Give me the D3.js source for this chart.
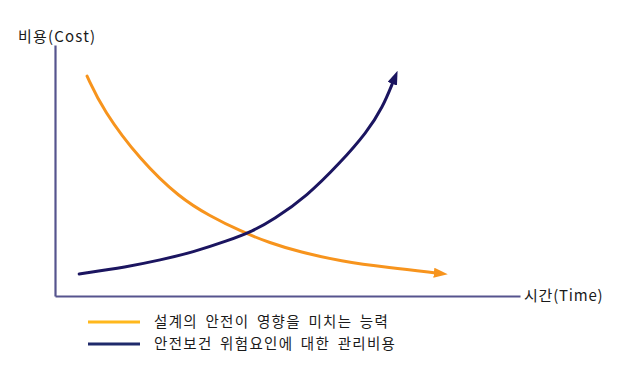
<!DOCTYPE html>
<html>
<head>
<meta charset="utf-8">
<script src="https://cdn.jsdelivr.net/npm/d3@7"></script>
<style>
  body { margin: 0; background: #fff; }
  text { font-family: "Noto Sans CJK KR", "Noto Sans", sans-serif; fill: #1a1a1a; }
</style>
</head>
<body>
<div id="chart"></div>
<script>
// curve points, in 0-100 units along each axis
const designX = [6.9, 10.3, 18.3, 26.9, 33.3, 39.8, 46.2, 52.7, 61.3, 72.0, 81.9];
const designY = [87.6, 74.1, 54.2, 39.0, 31.9, 25.9, 21.1, 17.5, 13.9, 11.2, 9.2];
const riskX = [5.2, 15.5, 22.6, 29.7, 37.0, 42.6, 46.9, 54.2, 61.3, 67.1, 70.5, 72.7];
const riskY = [8.8, 11.6, 14.3, 17.5, 21.9, 25.9, 30.3, 39.8, 53.0, 65.3, 75.3, 85.3];
const seriesNames = ['설계의 안전이 영향을 미치는 능력', '안전보건 위험요인에 대한 관리비용'];
const curveColors = ['#f7941d', '#1b1560'];
const legendColors = ['#ffb81c', '#1f2a6b'];
const yLabel = '비용(Cost)';
const xLabel = '시간(Time)';

const width = 629;
const height = 374;
const plotLeft = 55, plotRight = 520, plotTop = 45, plotBottom = 296;

const svg = d3.select('#chart').append('svg')
  .attr('width', width)
  .attr('height', height);

const xScale = d3.scaleLinear().domain([0, 100]).range([plotLeft, plotRight]);
const yScale = d3.scaleLinear().domain([0, 100]).range([plotBottom, plotTop]);

// arrow heads
const defs = svg.append('defs');
curveColors.forEach(function(c, i) {
  defs.append('marker')
    .attr('id', 'arrow' + i)
    .attr('viewBox', '0 0 14 10')
    .attr('refX', 2)
    .attr('refY', 5)
    .attr('markerWidth', 14)
    .attr('markerHeight', 10)
    .attr('markerUnits', 'userSpaceOnUse')
    .attr('orient', 'auto')
    .append('path')
    .attr('d', 'M0,0 L14,5 L0,10 Z')
    .attr('fill', c);
});

// axes: only the domain lines
const xaxis = d3.axisBottom(xScale).ticks(0).tickSize(0);
const yaxis = d3.axisLeft(yScale).ticks(0).tickSize(0);

const gx = svg.append('g')
  .attr('transform', 'translate(0,' + plotBottom + ')')
  .call(xaxis);
const gy = svg.append('g')
  .attr('transform', 'translate(' + plotLeft + ',0)')
  .call(yaxis);
[gx, gy].forEach(function(g) {
  g.select('.domain')
    .attr('stroke', '#56548e')
    .attr('stroke-width', 2.2);
});

svg.append('text')
  .attr('x', 18)
  .attr('y', 42)
  .attr('font-size', 15)
  .attr('letter-spacing', 1.2)
  .text(yLabel);

svg.append('text')
  .attr('x', 524)
  .attr('y', 301)
  .attr('font-size', 15)
  .attr('letter-spacing', 0.8)
  .text(xLabel);

const line = d3.line()
  .x(function(d) { return xScale(d[0]); })
  .y(function(d) { return yScale(d[1]); })
  .curve(d3.curveBasis);

const series = [d3.zip(designX, designY), d3.zip(riskX, riskY)];

series.forEach(function(pts, i) {
  svg.append('path')
    .datum(pts)
    .attr('d', line)
    .attr('fill', 'none')
    .attr('stroke', curveColors[i])
    .attr('stroke-width', 3)
    .attr('stroke-linecap', 'round')
    .attr('marker-end', 'url(#arrow' + i + ')');
});

// legend
const legend = svg.append('g');
seriesNames.forEach(function(name, i) {
  const y = 322 + i * 22;
  legend.append('line')
    .attr('x1', 88).attr('x2', 140)
    .attr('y1', y).attr('y2', y)
    .attr('stroke', legendColors[i])
    .attr('stroke-width', 3);
  legend.append('text')
    .attr('x', 154)
    .attr('y', y + 5)
    .attr('font-size', 14.5)
    .attr('letter-spacing', 1.3)
    .attr('word-spacing', 3)
    .text(name);
});
</script>
</body>
</html>
